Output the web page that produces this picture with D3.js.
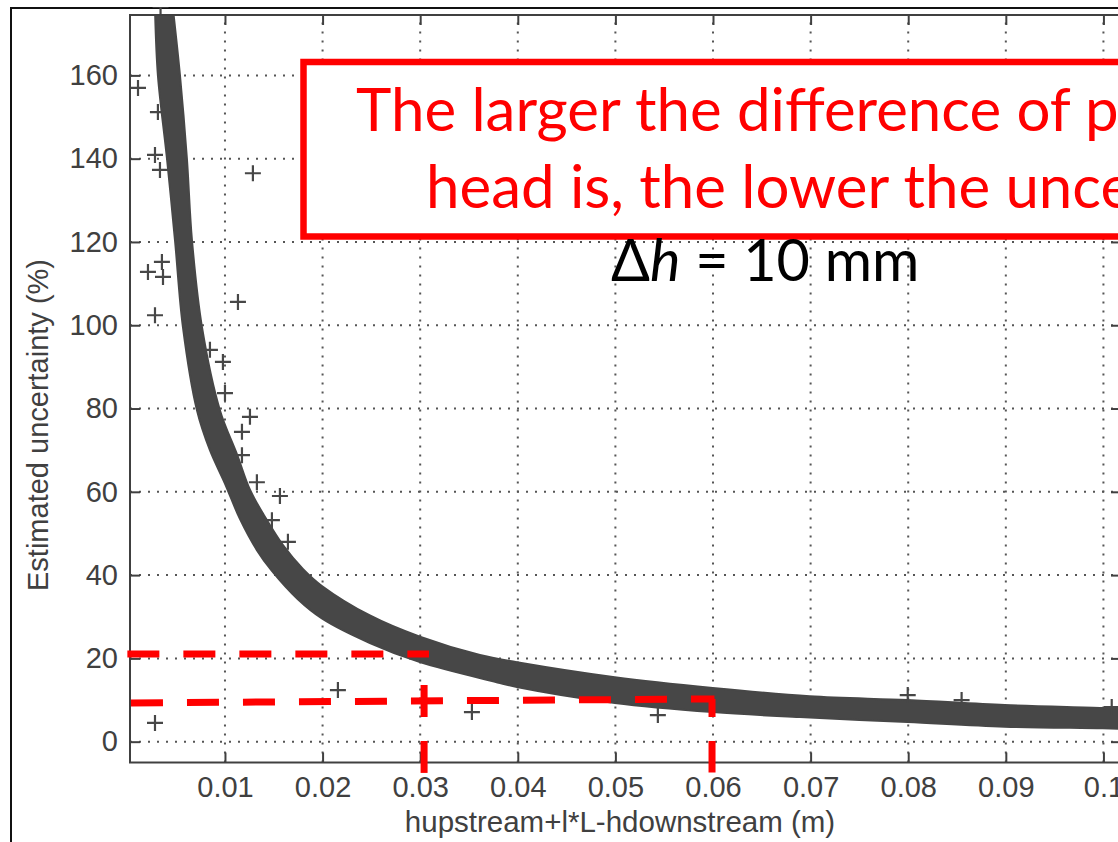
<!DOCTYPE html>
<html>
<head>
<meta charset="utf-8">
<script src="https://cdn.jsdelivr.net/npm/d3@7"></script>
<style>
  body { margin: 0; background: #fff; }
  svg { display: block; }
</style>
</head>
<body>
<svg id="chart" width="1118" height="842"></svg>
<script>
var WIDTH = 1118;
var HEIGHT = 842;
var PLOT = { left: 130, right: 1121, top: 15, bottom: 762.5 };
var AXIS_COLOR = '#404040';
var MARK_COLOR = '#474747';
var RED = '#ff0000';

// axis ticks
var xTicks = [0.01, 0.02, 0.03, 0.04, 0.05, 0.06, 0.07, 0.08, 0.09, 0.1];
var xTickLabels = ['0.01', '0.02', '0.03', '0.04', '0.05', '0.06', '0.07', '0.08', '0.09', '0.1'];
var yTicks = [0, 20, 40, 60, 80, 100, 120, 140, 160];

// outline of the dense band of "+" markers
// lower / left side of the band
var bandLower = [
  [0.00283, 176], [0.00313, 160], [0.00406, 140], [0.00488, 120.4], [0.00569, 99.6],
  [0.00713, 79.6], [0.00846, 70.0], [0.0100, 62.0], [0.01153, 53.5], [0.01327, 46.0],
  [0.01481, 41.0], [0.01747, 34.2], [0.01993, 29.6], [0.02485, 23.7], [0.02997, 19.1],
  [0.03817, 14.1], [0.03991, 13.1], [0.04994, 9.3], [0.05997, 7.1], [0.06889, 5.9],
  [0.07995, 4.7], [0.08988, 3.6], [0.09992, 3.2], [0.1030, 3.0]
];
// upper / right side of the band
var bandUpper = [
  [0.00467, 176], [0.00539, 160], [0.00610, 140], [0.00662, 120.4], [0.00764, 99.6],
  [0.00948, 79.6], [0.01123, 69.0], [0.01256, 60.5], [0.01409, 54.0], [0.01594, 47.2],
  [0.01798, 41.5], [0.01993, 37.4], [0.02485, 30.3], [0.02997, 25.2], [0.03612, 20.8],
  [0.03991, 19.1], [0.04994, 15.5], [0.05997, 12.9], [0.06991, 10.9], [0.07995, 10.0],
  [0.08988, 8.8], [0.09992, 8.1], [0.1030, 7.8]
];
// isolated "+" markers
var outliers = [
  [0.00109, 157.0], [0.00313, 151.2], [0.00283, 140.9], [0.00334, 137.3], [0.01286, 136.5],
  [0.00354, 115.2], [0.00211, 112.8], [0.00365, 111.6], [0.00283, 102.4], [0.01133, 105.6],
  [0.00979, 91.2], [0.01000, 83.7], [0.00846, 94.1], [0.01256, 78.0], [0.01174, 74.4],
  [0.01174, 68.8], [0.01327, 62.3], [0.01563, 59.0], [0.01481, 53.2], [0.01645, 48.0],
  [0.02157, 12.4], [0.03530, 7.1], [0.00283, 4.5], [0.05435, 6.4], [0.07995, 11.2],
  [0.08547, 10.0], [0.10085, 8.3], [0.00340, 176.5]
];

// red dashed guide lines (data coordinates)
var guide20 = [[0.0000, 21.06], [0.0309, 21.06]];
var guide10 = [[0.00037, 9.3], [0.06015, 10.27]];
var guide10Down = [[0.0599, 10.27], [0.0599, -7.4]];
var guide003Down = [[0.0304, 13.6], [0.0304, -7.5]];

var noteLines = ['The larger the difference of piezometric', 'head is, the lower the uncertainty'];

var svg = d3.select('#chart');

svg.append('rect').attr('width', WIDTH).attr('height', HEIGHT).attr('fill', '#fff');

// outer figure frame
svg.append('rect')
  .attr('x', 11).attr('y', 8)
  .attr('width', 1300).attr('height', 1000)
  .attr('fill', 'none')
  .attr('stroke', '#111')
  .attr('stroke-width', 2);

var xScale = d3.scaleLinear().domain([0.00027, 0.1018]).range([PLOT.left, PLOT.right]);
var yScale = d3.scaleLinear().domain([-5, 174.5]).range([PLOT.bottom, PLOT.top]);

svg.append('defs')
  .append('clipPath')
  .attr('id', 'plot-clip')
  .append('rect')
  .attr('x', PLOT.left).attr('y', PLOT.top - 8)
  .attr('width', PLOT.right - PLOT.left)
  .attr('height', PLOT.bottom - PLOT.top + 8);

// dotted grid
var grid = svg.append('g').attr('class', 'grid')
  .attr('stroke', '#555')
  .attr('stroke-width', 2)
  .attr('stroke-dasharray', '2,7');

grid.selectAll('.gx').data(xTicks).enter().append('line')
  .attr('x1', d => xScale(d)).attr('x2', d => xScale(d))
  .attr('y1', PLOT.bottom).attr('y2', PLOT.top);

grid.selectAll('.gy').data(yTicks).enter().append('line')
  .attr('y1', d => yScale(d)).attr('y2', d => yScale(d))
  .attr('x1', PLOT.left).attr('x2', PLOT.right);

// data
var dataGroup = svg.append('g').attr('clip-path', 'url(#plot-clip)');

var line = d3.line()
  .x(d => xScale(d[0]))
  .y(d => yScale(d[1]));

var edge = d3.line()
  .curve(d3.curveCatmullRom)
  .x(d => xScale(d[0]))
  .y(d => yScale(d[1]));

var bandPath = edge(bandLower) + edge(bandUpper.slice().reverse()).replace(/^M/, 'L') + 'Z';

dataGroup.append('path')
  .attr('d', bandPath)
  .attr('fill', MARK_COLOR)
  .attr('stroke', MARK_COLOR)
  .attr('stroke-width', 2)
  .attr('stroke-linejoin', 'round')
  .attr('clip-path', 'url(#band-clip)');

svg.select('defs')
  .append('clipPath')
  .attr('id', 'band-clip')
  .append('rect')
  .attr('x', PLOT.left).attr('y', PLOT.top)
  .attr('width', PLOT.right - PLOT.left)
  .attr('height', PLOT.bottom - PLOT.top);

dataGroup.selectAll('.outlier').data(outliers).enter().append('path')
  .attr('class', 'outlier')
  .attr('transform', d => 'translate(' + xScale(d[0]) + ',' + yScale(d[1]) + ')')
  .attr('d', 'M-8,0H8M0,-8V8')
  .attr('stroke', MARK_COLOR)
  .attr('stroke-width', 2.2)
  .attr('fill', 'none');

// axes with inward ticks
var fontFamily = '"Liberation Sans", Arial, Helvetica, sans-serif';

var xAxis = d3.axisBottom(xScale).tickValues(xTicks)
  .tickFormat((d, i) => xTickLabels[i]).tickSize(-10).tickSizeOuter(0).tickPadding(14);
var yAxis = d3.axisLeft(yScale).tickValues(yTicks).tickSize(-10).tickSizeOuter(0).tickPadding(12);

var xAxisGroup = svg.append('g')
  .attr('transform', 'translate(0,' + PLOT.bottom + ')')
  .call(xAxis);
var yAxisGroup = svg.append('g')
  .attr('transform', 'translate(' + PLOT.left + ',0)')
  .call(yAxis);
var topAxisGroup = svg.append('g')
  .attr('transform', 'translate(0,' + PLOT.top + ')')
  .call(d3.axisTop(xScale).tickValues(xTicks).tickFormat('').tickSize(-10).tickSizeOuter(0));
var rightAxisGroup = svg.append('g')
  .attr('transform', 'translate(' + PLOT.right + ',0)')
  .call(d3.axisRight(yScale).tickValues(yTicks).tickFormat('').tickSize(-10).tickSizeOuter(0));

[xAxisGroup, yAxisGroup, topAxisGroup, rightAxisGroup].forEach(g => {
  g.select('.domain').remove();
  g.selectAll('.tick line').attr('stroke', AXIS_COLOR).attr('stroke-width', 2);
  g.selectAll('.tick text')
    .attr('fill', AXIS_COLOR)
    .style('font-family', fontFamily)
    .style('font-size', '29px');
});

svg.append('rect')
  .attr('x', PLOT.left).attr('y', PLOT.top)
  .attr('width', PLOT.right - PLOT.left)
  .attr('height', PLOT.bottom - PLOT.top)
  .attr('fill', 'none')
  .attr('stroke', AXIS_COLOR)
  .attr('stroke-width', 2);

// axis titles
svg.append('text')
  .attr('x', 620)
  .attr('y', 832)
  .attr('text-anchor', 'middle')
  .attr('fill', AXIS_COLOR)
  .style('font-family', fontFamily)
  .style('font-size', '29.5px')
  .text('hupstream+l*L-hdownstream (m)');

svg.append('text')
  .attr('transform', 'translate(48,425) rotate(-90)')
  .attr('text-anchor', 'middle')
  .attr('fill', AXIS_COLOR)
  .style('font-family', fontFamily)
  .style('font-size', '29px')
  .text('Estimated uncertainty (%)');

// red dashed guides
var guides = svg.append('g')
  .attr('fill', 'none')
  .attr('stroke', RED)
  .attr('stroke-width', 7)
  .attr('stroke-dasharray', '32,24');

guides.append('path').attr('d', line(guide20));
guides.append('path').attr('d', line(guide10));
guides.append('path').attr('d', line(guide10Down)).attr('stroke-dashoffset', 14);
guides.append('path').attr('d', line(guide003Down));

// annotation box
svg.append('rect')
  .attr('x', 303.5).attr('y', 62)
  .attr('width', 1000).attr('height', 174.5)
  .attr('fill', '#fff')
  .attr('stroke', RED)
  .attr('stroke-width', 6.5);

var note = svg.append('text')
  .attr('fill', RED)
  .style('font-family', 'Lato, "Open Sans", sans-serif')
  .style('font-size', '60px');
note.append('tspan').attr('x', 356).attr('y', 131).text(noteLines[0]);
note.append('tspan').attr('x', 426).attr('y', 208).text(noteLines[1]);

var dh = svg.append('text')
  .attr('x', 611).attr('y', 281)
  .attr('fill', '#000')
  .style('font-family', 'Lato, "Open Sans", sans-serif')
  .style('font-size', '57.5px');
dh.append('tspan').text('Δ');
dh.append('tspan').style('font-style', 'italic').text('h');
dh.append('tspan').text(' = 10 mm');
</script>
</body>
</html>
